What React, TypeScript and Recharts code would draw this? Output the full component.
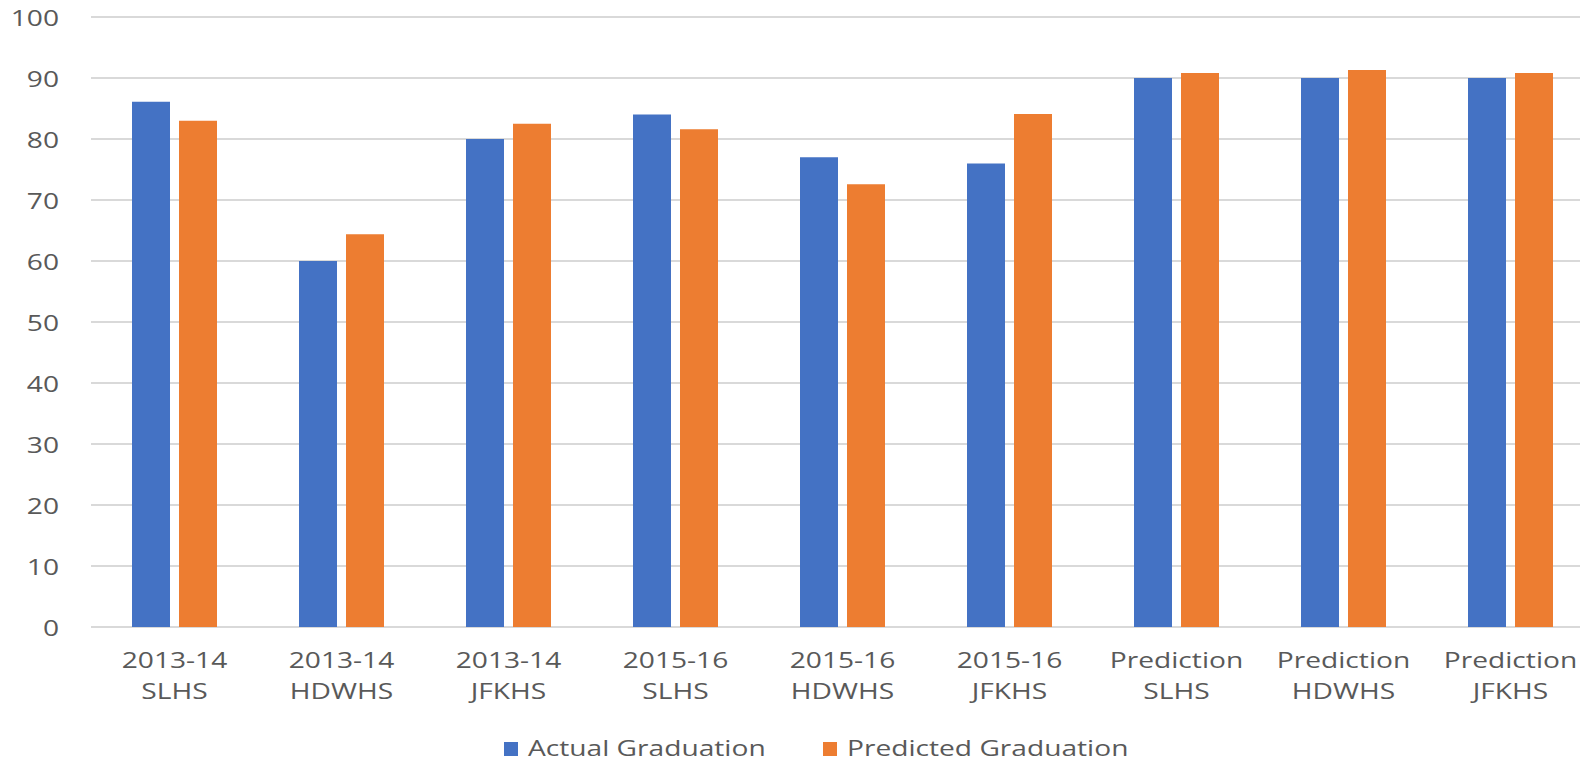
import React from 'react';
import { BarChart, Bar, XAxis, YAxis, CartesianGrid, Legend } from 'recharts';

const categories = [
  '2013-14 SLHS',
  '2013-14 HDWHS',
  '2013-14 JFKHS',
  '2015-16 SLHS',
  '2015-16 HDWHS',
  '2015-16 JFKHS',
  'Prediction SLHS',
  'Prediction HDWHS',
  'Prediction JFKHS',
];
const actualGraduation = [86.1, 60, 80, 84, 77, 76, 90, 90, 90];
const predictedGraduation = [83, 64.4, 82.5, 81.6, 72.6, 84.1, 90.8, 91.3, 90.8];
const yTicks = [0, 10, 20, 30, 40, 50, 60, 70, 80, 90, 100];
const seriesNames = ['Actual Graduation', 'Predicted Graduation'];

const BLUE = '#4472C4';
const ORANGE = '#ED7D31';
const TEXT = '#595959';
const FONT = '"Open Sans", sans-serif';
// the source picture is stretched sideways, so the text is too
const STRETCH = 1.28;

const data = categories.map((name, i) => ({
  name,
  actual: actualGraduation[i],
  predicted: predictedGraduation[i],
}));

const XTick = (props: any) => {
  const { x, y, payload } = props;
  const label: string = payload.value;
  const cut = label.indexOf(' ');
  const lines = [label.slice(0, cut), label.slice(cut + 1)];
  return (
    <g transform={`translate(${x},${y}) scale(${STRETCH},1)`}>
      {lines.map((line, i) => (
        <text key={i} x={0} y={41 + i * 31} textAnchor="middle" fontSize={22} fill={TEXT} fontFamily={FONT}>
          {line}
        </text>
      ))}
    </g>
  );
};

const YTick = (props: any) => {
  const { x, y, payload } = props;
  return (
    <g transform={`translate(${x},${y}) scale(${STRETCH},1)`}>
      <text x={0} y={9} textAnchor="end" fontSize={22} fill={TEXT} fontFamily={FONT}>
        {payload.value}
      </text>
    </g>
  );
};

const LegendContent = () => {
  const items = [
    { name: seriesNames[0], color: BLUE, x: 504 },
    { name: seriesNames[1], color: ORANGE, x: 823 },
  ];
  return (
    <svg width={1594} height={30} style={{ display: 'block' }}>
      {items.map((item) => (
        <g key={item.name}>
          <rect x={item.x} y={10} width={14} height={14} fill={item.color} />
          <g transform={`translate(${item.x + 24},24) scale(${STRETCH},1)`}>
            <text x={0} y={0} fontSize={22} fill={TEXT} fontFamily={FONT}>
              {item.name}
            </text>
          </g>
        </g>
      ))}
    </svg>
  );
};

export default function App() {
  return (
    <div style={{ position: 'absolute', left: 0, top: 0, width: 1580, height: 762, overflow: 'hidden', background: '#fff' }}>
      <BarChart
        width={1594}
        height={762}
        data={data}
        margin={{ top: 17, right: 0, bottom: 0, left: 0 }}
        barGap={9}
        barSize={38}
      >
        <CartesianGrid vertical={false} stroke="#d9d9d9" strokeWidth={2} />
        <XAxis
          dataKey="name"
          axisLine={false}
          tickLine={false}
          tickSize={0}
          tickMargin={0}
          height={105}
          interval={0}
          tick={<XTick />}
        />
        <YAxis
          domain={[0, 100]}
          ticks={yTicks}
          axisLine={false}
          tickLine={false}
          tickSize={0}
          tickMargin={32}
          width={91}
          interval={0}
          tick={<YTick />}
        />
        <Legend verticalAlign="bottom" height={30} wrapperStyle={{ left: 0, width: 1594 }} content={<LegendContent />} />
        <Bar dataKey="actual" name={seriesNames[0]} fill={BLUE} isAnimationActive={false} />
        <Bar dataKey="predicted" name={seriesNames[1]} fill={ORANGE} isAnimationActive={false} />
      </BarChart>
    </div>
  );
}
